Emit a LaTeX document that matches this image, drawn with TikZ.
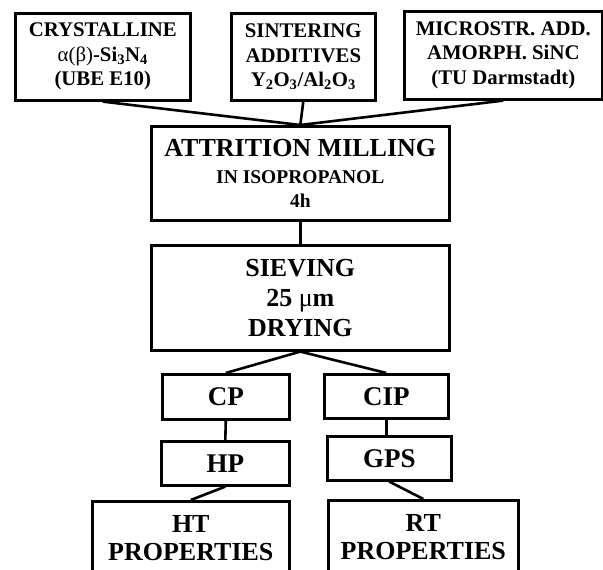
\documentclass[tikz,border=0pt]{standalone}
\usepackage{fontspec}
\setmainfont{Liberation Serif}

\tikzset{
  stage/.style={rectangle, draw=black, line width=2.6pt, align=center, inner sep=0pt},
  feedbox/.style={stage, font=\bfseries\fontsize{20.8}{24.5}\selectfont},
  routebox/.style={stage, font=\bfseries\fontsize{27}{30}\selectfont},
  propbox/.style={stage, font=\bfseries\fontsize{26}{28}\selectfont},
  link/.style={draw=black, line width=2.6pt}
}

\begin{document}
\begin{tikzpicture}[x=1pt, y=-1pt]

\clip (0,0) rectangle (603,570);

\node at (14,12)[feedbox, minimum width=175pt, minimum height=87pt, anchor=north west] (crystal) {CRYSTALLINE\\{\mdseries α(β)}-Si\textsubscript{3}N\textsubscript{4}\\(UBE E10)};
\node at (230,12)[feedbox, minimum width=144pt, minimum height=87pt, anchor=north west] (additives) {SINTERING\\ADDITIVES\\Y\textsubscript{2}O\textsubscript{3}/Al\textsubscript{2}O\textsubscript{3}};
\node at (403,10)[feedbox, minimum width=198pt, minimum height=88pt, anchor=north west] (sinc) {MICROSTR. ADD.\\AMORPH. SiNC\\(TU Darmstadt)};

\node at (150,125)[stage, font=\bfseries\fontsize{19.5}{24}\selectfont, minimum width=298pt, minimum height=94pt, anchor=north west] (milling) {{\fontsize{26}{26}\selectfont ATTRITION MILLING}\\[3pt]IN ISOPROPANOL\\4h};
\node at (150,244)[stage, font=\bfseries\fontsize{26}{30}\selectfont, minimum width=298pt, minimum height=105pt, anchor=north west] (sieving) {SIEVING\\25 {\mdseries μ}m\\DRYING};

\node at (161,373)[routebox, minimum width=127pt, minimum height=45pt, anchor=north west] (cp) {CP};
\node at (323,373)[routebox, minimum width=124pt, minimum height=44pt, anchor=north west] (cip) {CIP};
\node at (160,440)[routebox, minimum width=128pt, minimum height=44pt, anchor=north west] (hp) {HP};
\node at (326,435)[routebox, minimum width=124pt, minimum height=44pt, anchor=north west] (gps) {GPS};

\node at (91,500)[propbox, minimum width=197pt, minimum height=73pt, anchor=north west] (ht) {HT\\PROPERTIES};
\node at (327,499)[propbox, minimum width=190pt, minimum height=73pt, anchor=north west] (rt) {RT\\PROPERTIES};

\draw[link] (crystal.south) -- (milling.north);
\draw[link] (additives.south) -- (milling.north);
\draw[link] (sinc.south) -- (milling.north);
\draw[link] (milling.south) -- (sieving.north);
\draw[link] (sieving.south) -- (cp.north);
\draw[link] (sieving.south) -- (cip.north);
\draw[link] (cp.south) -- (hp.north);
\draw[link] (cip.south) -- (cip.south |- gps.north);
\draw[link] (hp.south) -- (ht.north);
\draw[link] (gps.south) -- (rt.north);

\end{tikzpicture}
\end{document}
